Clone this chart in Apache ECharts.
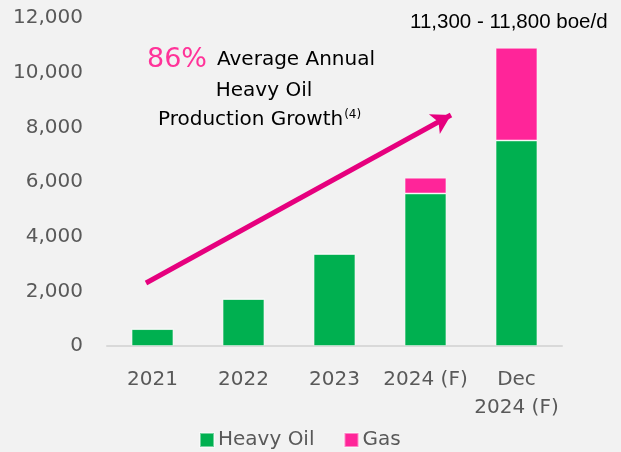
<!DOCTYPE html>
<html>
<head>
<meta charset="utf-8">
<script src="https://cdn.jsdelivr.net/npm/echarts@6/dist/echarts.min.js"></script>
<style>
  html, body { margin: 0; padding: 0; background: #f2f2f2; }
  #chart { width: 621px; height: 452px; }
</style>
</head>
<body>
<div id="chart"></div>
<script>
// categories and values (boe/d)
var categories = ['2021', '2022', '2023', '2024 (F)', 'Dec\n2024 (F)'];
var heavyOil = [620, 1720, 3370, 5580, 7520];
var gas = [0, 0, 0, 580, 3390];
var yTicks = [0, 2000, 4000, 6000, 8000, 10000, 12000];

var chart = echarts.init(document.getElementById('chart'));
var font = 'DejaVu Sans';

var option = {
  backgroundColor: '#f2f2f2',
  animation: false,
  grid: { left: 107, right: 59, top: 18, bottom: 106 },
  legend: {
    left: 194,
    top: 425,
    itemWidth: 14,
    itemHeight: 14,
    itemGap: 29,
    icon: 'rect',
    textStyle: { fontFamily: font, fontSize: 20, color: '#595959', padding: [0, 0, 0, -1] },
    data: ['Heavy Oil', 'Gas']
  },
  xAxis: {
    type: 'category',
    data: categories,
    axisLine: { lineStyle: { color: '#d9d9d9', width: 2 } },
    axisTick: { show: false },
    axisLabel: { interval: 0, fontFamily: font, fontSize: 20, color: '#595959', margin: 20, lineHeight: 28 }
  },
  yAxis: {
    type: 'value',
    min: yTicks[0],
    max: yTicks[yTicks.length - 1],
    interval: 2000,
    splitLine: { show: false },
    axisLine: { show: false },
    axisTick: { show: false },
    axisLabel: {
      fontFamily: font, fontSize: 20, color: '#595959', margin: 24,
      formatter: function (v) { return v.toLocaleString('en-US'); }
    }
  },
  series: [
    {
      name: 'Heavy Oil',
      type: 'bar',
      stack: 'prod',
      barWidth: '46%',
      itemStyle: { color: '#00b050', borderColor: 'rgba(255,255,255,0.45)', borderWidth: 1 },
      data: heavyOil,
      markLine: {
        silent: true,
        symbol: ['none', 'arrow'],
        symbolSize: [17, 19],
        label: { show: false },
        lineStyle: { color: '#e6007e', width: 5, type: 'solid' },
        data: [[{ x: 146, y: 283 }, { x: 451, y: 115 }]]
      }
    },
    {
      name: 'Gas',
      type: 'bar',
      stack: 'prod',
      barWidth: '46%',
      itemStyle: { color: '#ff2599', borderColor: 'rgba(255,255,255,0.45)', borderWidth: 1 },
      data: gas
    }
  ],
  graphic: [
    {
      type: 'text',
      left: 410,
      top: 12,
      style: { text: '11,300 - 11,800 boe/d', fontFamily: 'Liberation Sans', fontSize: 20.5, fill: '#000' }
    },
    {
      type: 'text',
      left: 147,
      top: 46,
      style: {
        text: '{p|86%}{b|Average Annual}',
        rich: {
          p: { fontFamily: font, fontSize: 27, fill: '#ff3399', padding: [0, 10, 0, 0] },
          b: { fontFamily: font, fontSize: 20, fill: '#000' }
        }
      }
    },
    {
      type: 'text',
      x: 264,
      y: 81,
      style: { text: 'Heavy Oil', align: 'center', fontFamily: font, fontSize: 20, fill: '#000' }
    },
    {
      type: 'text',
      left: 158,
      top: 109,
      style: {
        text: '{b|Production Growth}{s|(4)}',
        rich: {
          b: { fontFamily: font, fontSize: 20, fill: '#000' },
          s: { fontFamily: font, fontSize: 12, fill: '#000', verticalAlign: 'top', padding: [0, 0, 10, 1] }
        }
      }
    }
  ]
};
chart.setOption(option);
</script>
</body>
</html>
